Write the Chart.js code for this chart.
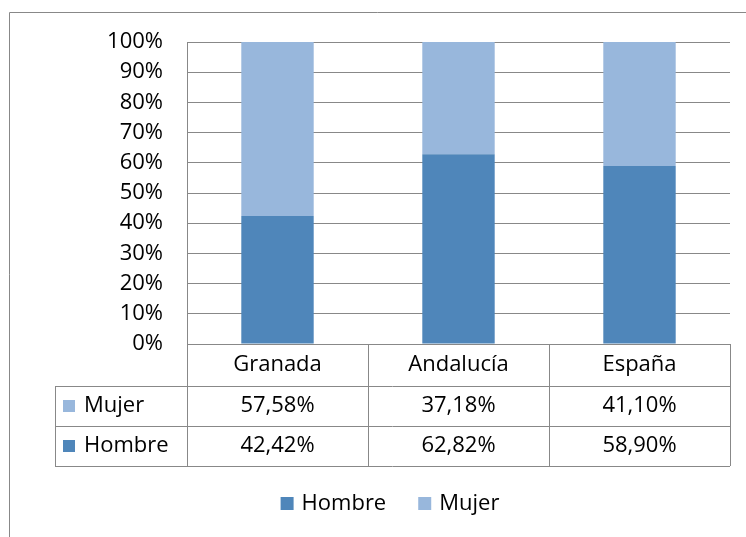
<!DOCTYPE html>
<html>
<head>
<meta charset="utf-8">
<script src="https://cdn.jsdelivr.net/npm/chart.js@4/dist/chart.umd.min.js"></script>
<style>
  html, body { margin: 0; padding: 0; background: #fff; }
  #wrap { width: 746px; height: 537px; }
</style>
</head>
<body>
<div id="wrap"><canvas id="grafica" width="746" height="537"></canvas></div>
<script>
"use strict";
/* Datos */
const zonas = ["Granada", "Andalucía", "España"];
const hombre = [42.42, 62.82, 58.90];
const mujer = [57.58, 37.18, 41.10];
const marcasY = [0, 10, 20, 30, 40, 50, 60, 70, 80, 90, 100];

const colorHombre = "#4f86ba";
const colorMujer = "#98b7dc";
const colorLinea = "#888888";
const fuente = "'Open Sans', 'Noto Sans', sans-serif";
const tamFuente = 22;

function formato(v) {
    return v.toFixed(2).replace(".", ",") + "%";
}

/* Tabla de datos, marco y leyenda */
const tablaPlugin = {
    id: "tablaDatos",
    afterDraw(chart) {
        const ctx = chart.ctx;
        const area = chart.chartArea;
        const xs = chart.scales.x;
        const anchoCat = (area.right - area.left) / zonas.length;
        const yTop = area.bottom;
        const yCab = yTop + 42;
        const yF1 = yCab + 40;
        const yF2 = yF1 + 40;
        const xIzq = 55;

        ctx.save();
        ctx.strokeStyle = colorLinea;
        ctx.lineWidth = 1;

        // marco exterior
        ctx.beginPath();
        ctx.moveTo(9.5, 537);
        ctx.lineTo(9.5, 12.5);
        ctx.lineTo(746, 12.5);
        ctx.stroke();

        // lineas de la tabla
        const h = (y, x0, x1) => {
            ctx.beginPath();
            ctx.moveTo(x0, Math.round(y) + 0.5);
            ctx.lineTo(x1, Math.round(y) + 0.5);
            ctx.stroke();
        };
        const v = (x, y0, y1) => {
            ctx.beginPath();
            ctx.moveTo(Math.round(x) + 0.5, y0);
            ctx.lineTo(Math.round(x) + 0.5, y1);
            ctx.stroke();
        };
        h(yTop, area.left, area.right);
        h(yCab, xIzq, area.right);
        h(yF1, xIzq, area.right);
        h(yF2, xIzq, area.right);
        v(area.left, yTop, yF2);
        v(area.right, yTop, yF2);
        v(xIzq, yCab, yF2);
        for (let i = 1; i < zonas.length; i++) {
            v(area.left + anchoCat * i, yTop, yF2);
        }

        ctx.fillStyle = "#000";
        ctx.font = tamFuente + "px " + fuente;
        ctx.textAlign = "center";
        ctx.textBaseline = "middle";

        zonas.forEach((z, i) => {
            const cx = xs.getPixelForValue(i);
            ctx.fillText(z, cx, (yTop + yCab) / 2);
            ctx.fillText(formato(mujer[i]), cx, (yCab + yF1) / 2);
            ctx.fillText(formato(hombre[i]), cx, (yF1 + yF2) / 2);
        });

        // claves de la tabla
        const filas = [
            { nombre: "Mujer", color: colorMujer, y: (yCab + yF1) / 2 },
            { nombre: "Hombre", color: colorHombre, y: (yF1 + yF2) / 2 }
        ];
        ctx.textAlign = "left";
        filas.forEach(f => {
            ctx.fillStyle = f.color;
            ctx.fillRect(63, f.y - 6, 12, 12);
            ctx.fillStyle = "#000";
            ctx.fillText(f.nombre, 84, f.y);
        });

        // leyenda inferior
        const items = chart.data.datasets.map(d => ({ nombre: d.label, color: d.backgroundColor }));
        const anchos = items.map(it => 13 + 8 + ctx.measureText(it.nombre).width);
        const total = anchos.reduce((a, b) => a + b, 0) + 32 * (items.length - 1);
        let x = 390 - total / 2;
        const yLey = 504;
        items.forEach((it, i) => {
            ctx.fillStyle = it.color;
            ctx.fillRect(x, yLey - 7, 13, 13);
            ctx.fillStyle = "#000";
            ctx.fillText(it.nombre, x + 21, yLey);
            x += anchos[i] + 32;
        });

        ctx.restore();
    }
};

/* Grafica */
new Chart(document.getElementById("grafica"), {
    type: "bar",
    data: {
        labels: zonas,
        datasets: [
            { label: "Hombre", data: hombre, backgroundColor: colorHombre },
            { label: "Mujer", data: mujer, backgroundColor: colorMujer }
        ]
    },
    options: {
        responsive: false,
        animation: false,
        layout: { padding: { left: 0, top: 42, right: 16, bottom: 193 } },
        datasets: { bar: { categoryPercentage: 1, barPercentage: 0.4 } },
        plugins: { legend: { display: false }, tooltip: { enabled: false } },
        scales: {
            x: { stacked: true, display: false },
            y: {
                stacked: true,
                min: 0,
                max: 100,
                afterBuildTicks: scale => { scale.ticks = marcasY.map(m => ({ value: m })); },
                afterFit: scale => { scale.width = 187; },
                grid: { color: colorLinea, drawTicks: false },
                border: { display: true, color: colorLinea },
                ticks: {
                    padding: 24,
                    color: "#000",
                    font: { family: fuente, size: tamFuente },
                    callback: v => v + "%"
                }
            }
        }
    },
    plugins: [tablaPlugin]
});
</script>
</body>
</html>
